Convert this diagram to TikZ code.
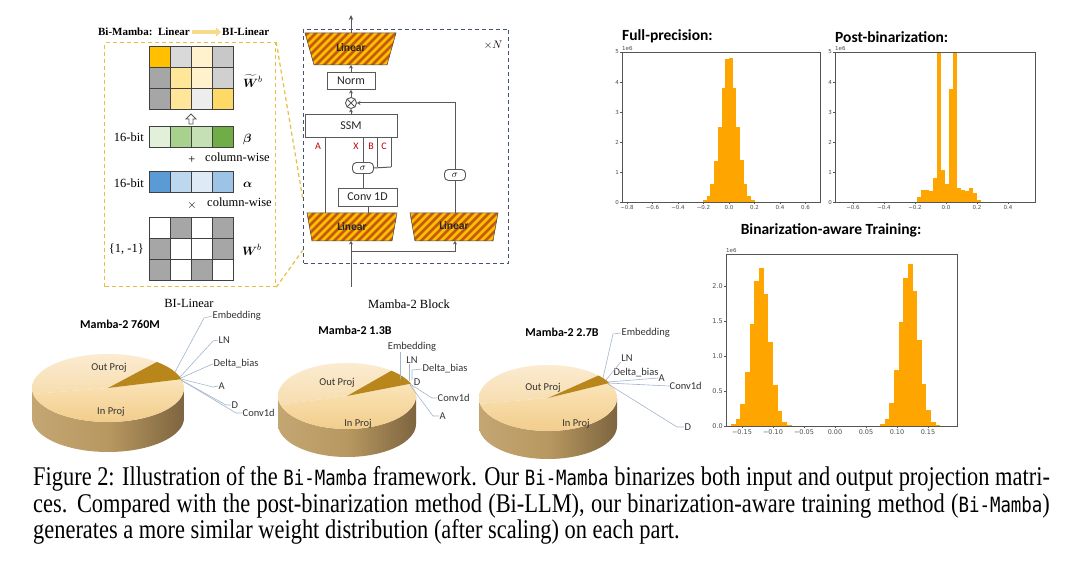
\documentclass[tikz,border=0pt]{standalone}
\usepackage{fontspec}
\setmainfont{Liberation Serif}
\setsansfont{Carlito}
\setmonofont{DejaVu Sans Mono}
\newfontfamily\djv{DejaVu Sans}
\usepackage{amsmath}
\usepackage{bm}
\usetikzlibrary{arrows.meta,calc}
\newcommand\myfs[1]{\fontsize{#1}{#1}\selectfont}
\newcommand\bimono{{\fontsize{21}{21}\ttfamily Bi-Mamba}}
\definecolor{lg}{HTML}{595959}
\definecolor{orgA}{HTML}{FFC000}
\definecolor{orgS}{HTML}{C65911}
\definecolor{navy}{HTML}{44546A}
\definecolor{ylw}{HTML}{E6C040}
\definecolor{ylwar}{HTML}{F7D98A}
\definecolor{redl}{HTML}{C00000}
\definecolor{barc}{HTML}{FFA500}
\definecolor{axc}{HTML}{555555}
\definecolor{lblue}{HTML}{A3B6CC}
\definecolor{cellb}{HTML}{404040}
\definecolor{sideL}{HTML}{C4A673}
\definecolor{sideM}{HTML}{B89860}
\definecolor{sideR}{HTML}{7E6540}
\definecolor{inT}{HTML}{FBE4B8}
\definecolor{inB}{HTML}{F2CD8C}
\definecolor{outT}{HTML}{FBEBD0}
\definecolor{outB}{HTML}{F7DDAF}
\definecolor{slc}{HTML}{B8861A}
\newcommand\mytrap[6]{%
\begin{scope}
\clip (#1,#5) -- (#2,#5) -- (#3,#6) -- (#4,#6) -- cycle;
\fill[orgA] (#1,#5) rectangle (#2,#6);
\foreach \k in {-40,-32,...,100} {\draw[orgS,line width=2.8pt] ({#1+\k},{#6+3}) -- ++(44,-44);}
\end{scope}
\draw[draw=lg!80!black,line width=0.5pt] (#1,#5) -- (#2,#5) -- (#3,#6) -- (#4,#6) -- cycle;}
\newcommand\mypie[9]{%
\shade[left color=sideL, right color=sideR, middle color=sideM] plot[domain=180:360,samples=60] ({#1+#3*cos(\x)},{#2-#4*sin(\x)}) -- plot[domain=360:180,samples=60] ({#1+#3*cos(\x)},{#2-#4*sin(\x)+#5}) -- cycle;
\shade[top color=inT, bottom color=inB] (#1,#2) -- plot[domain=#8:#9,samples=80] ({#1+#3*cos(\x)},{#2-#4*sin(\x)}) -- cycle;
\shade[top color=outT, bottom color=outB] (#1,#2) -- plot[domain=#7:#8,samples=50] ({#1+#3*cos(\x)},{#2-#4*sin(\x)}) -- cycle;
\fill[slc] (#1,#2) -- plot[domain=#6:#7,samples=20] ({#1+#3*cos(\x)},{#2-#4*sin(\x)}) -- cycle;}
\begin{document}
\begin{tikzpicture}[x=1pt,y=-1pt,
 ln/.style={draw=lg,line width=1pt},
 bx/.style={draw=lg,fill=white,line width=0.9pt,inner sep=0pt,font=\sffamily\myfs{12},text=black!85},
 sig/.style={draw=lg,fill=white,line width=0.9pt,rounded corners=4pt,minimum width=21,minimum height=11,inner sep=0pt,font=\myfs{10}},
 ltxt/.style={font=\sffamily\bfseries\myfs{11.5},text=black!85},
 red/.style={font=\sffamily\myfs{10},text=redl},
 ser/.style={font=\myfs{12.5},inner sep=0pt},
 pl/.style={font=\sffamily\myfs{10.5},text=black!80,inner sep=0.5pt},
 plt/.style={font=\sffamily\bfseries\myfs{12},inner sep=0pt},
 lbl/.style={draw=lblue,line width=0.6pt},
 tk/.style={font=\djv\myfs{5.5},text=black!70,inner sep=1pt},
 bar/.style={fill=barc},
 ht/.style={font=\sffamily\bfseries\myfs{15.5},inner sep=0pt},
 arr/.style={-{Stealth[length=5pt,width=4.5pt]}}
]
\useasboundingbox[fill=white] (0,0) rectangle (1080,564);

% ===== BI-Linear panel =====
\node[anchor=east,font=\bfseries\myfs{11},inner sep=0pt] (tl) at (190,32) {Bi-Mamba:\ \ Linear};
\node[anchor=west,font=\bfseries\myfs{11},inner sep=0pt] (tr) at (222,32) {BI-Linear};
\draw[ylwar,line width=3.5pt,-{Triangle[length=5pt,width=9pt]}] (tl.east) ++(2,0) -- ($(tr.west)+(-1,0)$);
\node[draw=ylw,dash pattern=on 4pt off 3pt,line width=1.2pt,minimum width=171,minimum height=244,anchor=north west,inner sep=0] (ybox) at (104,42) {};
\coordinate (z1) at (303,200);
\coordinate (z2) at (303,250);
\draw[ylw,dash pattern=on 4pt off 3pt,line width=1.2pt] (ybox.north east) -- (z1);
\draw[ylw,dash pattern=on 4pt off 3pt,line width=1.2pt] (ybox.south east) -- (z2);
% top matrix
\foreach \c [count=\j from 0] in {FFC000,D9D9D9,FFF2CC,C8C8C8} {\definecolor{tmp}{HTML}{\c}\filldraw[fill=tmp,draw=cellb,line width=1pt] ({149+21*\j},47) rectangle +(21,21);}
\foreach \c [count=\j from 0] in {A6A6A6,FFE699,FFF2CC,D0D0D0} {\definecolor{tmp}{HTML}{\c}\filldraw[fill=tmp,draw=cellb,line width=1pt] ({149+21*\j},68) rectangle +(21,21);}
\foreach \c [count=\j from 0] in {A6A6A6,FFE699,EDEDED,FFD966} {\definecolor{tmp}{HTML}{\c}\filldraw[fill=tmp,draw=cellb,line width=1pt] ({149+21*\j},89) rectangle +(21,21);}
\node[ser,anchor=west,font=\myfs{13}] (wt) at (243,81) {$\bm{\widetilde{W}}^{b}$};
\draw[lg,line width=0.9pt,fill=white] (191,114) -- (196,119) -- (193,119) -- (193,124) -- (189,124) -- (189,119) -- (186,119) -- cycle;
% beta
\foreach \c [count=\j from 0] in {E2F0D9,A9D18E,C5E0B4,70AD47} {\definecolor{tmp}{HTML}{\c}\filldraw[fill=tmp,draw=cellb,line width=1pt] ({149+21*\j},127) rectangle +(21,21);}
\node[ser,anchor=east] (b16) at (144,137) {16-bit};
\node[ser,anchor=west,font=\myfs{13}] (beta) at (243,140) {$\bm{\beta}$};
\node[ser] (plus) at (192,160) {+};
\node[ser,anchor=west] (cw1) at (205,157) {column-wise};
% alpha
\foreach \c [count=\j from 0] in {5B9BD5,BDD7EE,DEEBF7,9DC3E6} {\definecolor{tmp}{HTML}{\c}\filldraw[fill=tmp,draw=cellb,line width=1pt] ({149+21*\j},172) rectangle +(21,21);}
\node[ser,anchor=east] (a16) at (144,183) {16-bit};
\node[ser,anchor=west,font=\myfs{13}] (alpha) at (243,185) {$\bm{\alpha}$};
\node[ser] (times) at (192,206) {$\times$};
\node[ser,anchor=west] (cw2) at (207,202) {column-wise};
% Wb
\foreach \c [count=\j from 0] in {FFFFFF,A6A6A6,FFFFFF,A6A6A6} {\definecolor{tmp}{HTML}{\c}\filldraw[fill=tmp,draw=cellb,line width=1pt] ({149+21*\j},218) rectangle +(21,21);}
\foreach \c [count=\j from 0] in {A6A6A6,FFFFFF,FFFFFF,A6A6A6} {\definecolor{tmp}{HTML}{\c}\filldraw[fill=tmp,draw=cellb,line width=1pt] ({149+21*\j},239) rectangle +(21,21);}
\foreach \c [count=\j from 0] in {A6A6A6,FFFFFF,A6A6A6,FFFFFF} {\definecolor{tmp}{HTML}{\c}\filldraw[fill=tmp,draw=cellb,line width=1pt] ({149+21*\j},260) rectangle +(21,21);}
\node[ser,anchor=east] (pm) at (144,249) {\{1, -1\}};
\node[ser,anchor=west,font=\myfs{13}] (wb) at (242,250) {$\bm{W}^{b}$};
\node[ser] (bil) at (189,303) {BI-Linear};

% ===== Mamba block =====
\node[draw=navy,dash pattern=on 4pt off 3pt,line width=1pt,minimum width=205,minimum height=234,anchor=north west,inner sep=0] (mblk) at (303,29) {};
\node[font=\myfs{11}] (xn) at (493,45) {$\times N$};
\mytrap{305}{396}{387}{314}{33}{65}
\node[ltxt] (lin1) at (351,48) {Linear};
\mytrap{307}{397}{392}{312}{213}{241}
\node[ltxt] (lin2) at (352,227) {Linear};
\mytrap{410}{498}{493}{415}{213}{241}
\node[ltxt] (lin3) at (454,226) {Linear};
\coordinate (l1t) at (351,33);
\coordinate (l1b) at (351,65);
\coordinate (outp) at (351,15);
\node[bx,minimum width=48,minimum height=17] (norm) at (351,81) {Norm};
\node[circle,draw=lg,line width=0.9pt,fill=white,minimum size=11,inner sep=0] (mul) at (351,103) {};
\draw[lg,line width=0.9pt] (mul.north east) -- (mul.south west) (mul.north west) -- (mul.south east);
\node[bx,minimum width=92,minimum height=23] (ssm) at (351,125.5) {SSM};
\node[bx,minimum width=59,minimum height=18] (conv) at (367.5,197) {Conv 1D};
\node[sig] (sg1) at (363,168) {$\sigma$};
\node[sig] (sg2) at (455,175) {$\sigma$};
\draw[ln,arr] (l1t) -- (outp);
\draw[ln,-{Stealth[length=3.5pt,width=4pt]}] (norm.north) -- (l1b);
\draw[ln,-{Stealth[length=3.5pt,width=4pt]}] (mul.north) -- (norm.south);
\draw[ln,-{Stealth[length=3.5pt,width=4pt]}] (ssm.north) -- (mul.south);
\coordinate (l2tA) at (325,213);
\coordinate (l2tC) at (368,213);
\coordinate (bb) at (377,167);
\coordinate (cc) at (391,167);
\draw[ln] (l2tA) -- (l2tA |- ssm.south);
\draw[ln] (sg1.north) -- (sg1.north |- ssm.south);
\draw[ln] (bb) -- (bb |- ssm.south);
\draw[ln] (cc) -- (cc |- ssm.south);
\draw[ln] (sg1.east) -- (cc);
\draw[ln] (sg1.south) -- (sg1.south |- conv.north);
\draw[ln] (conv.south -| l2tC) -- (l2tC);
\coordinate (l3t) at (455,213);
\draw[ln] (l3t) -- (sg2.south);
\draw[ln,-{Stealth[length=3.5pt,width=4pt]}] (sg2.north) |- (mul.east);
\coordinate (inp) at (351,287);
\coordinate (l2b) at (351,241);
\coordinate (l3b) at (455,241);
\coordinate (br) at (351,252);
\draw[ln,-{Stealth[length=3.5pt,width=4pt]}] (inp) -- (l2b);
\draw[ln,-{Stealth[length=3.5pt,width=4pt]}] (br) -| (l3b);
\node[red] (la) at (318,146) {A};
\node[red] (lx) at (356,146) {X};
\node[red] (lb) at (371,146) {B};
\node[red] (lc) at (384,146) {C};
\node[ser] (mbl) at (409,304) {Mamba-2 Block};

% ===== Histograms =====
\node[ht,anchor=west] (t1) at (622,36) {Full-precision:};
\node[ht,anchor=west] (t2) at (835,37) {Post-binarization:};
\node[ht] (t3) at (831,230) {Binarization-aware Training:};
% full precision
\foreach \h [count=\i from 0] in {0.05,0.2,0.6,1.35,2.5,3.8,4.75,4.8,3.8,2.5,1.4,0.6,0.2,0.05}
  {\fill[bar] ({703+\i*3.7},202) rectangle ({703+(\i+1)*3.7},{202-\h*30});}
\node[draw=axc,line width=0.6pt,minimum width=198,minimum height=150,anchor=north west,inner sep=0] (ax1) at (622,52) {};
\foreach \v/\l in {-0.8/−0.8,-0.6/−0.6,-0.4/−0.4,-0.2/−0.2,0/0.0,0.2/0.2,0.4/0.4,0.6/0.6}
  {\draw[axc,line width=0.5pt] ({729+(\v)*127.5},202) -- ++(0,2); \node[tk,anchor=north] at ({729+(\v)*127.5},204) {\l};}
\foreach \v in {0,...,5}
  {\draw[axc,line width=0.5pt] (622,{202-30*\v}) -- ++(-2,0); \node[tk,anchor=east] at (620,{202-30*\v}) {\v};}
\node[tk,anchor=south west] (e1) at (621,52) {1e6};
% post binarization
\foreach \h [count=\i from 0] in {0.15,0.4,0.4,0.35,0.8,5,1.05,0.6,3.75,5,0.45,0.4,0.35,0.45,0.3,0.05}
  {\fill[bar] ({917+\i*4},202) rectangle ({917+(\i+1)*4},{202-\h*30});}
\node[draw=axc,line width=0.6pt,minimum width=200,minimum height=150,anchor=north west,inner sep=0] (ax2) at (835,52) {};
\foreach \v/\l in {-0.6/−0.6,-0.4/−0.4,-0.2/−0.2,0/0.0,0.2/0.2,0.4/0.4}
  {\draw[axc,line width=0.5pt] ({946+(\v)*155},202) -- ++(0,2); \node[tk,anchor=north] at ({946+(\v)*155},204) {\l};}
\foreach \v in {0,...,5}
  {\draw[axc,line width=0.5pt] (835,{202-30*\v}) -- ++(-2,0); \node[tk,anchor=east] at (833,{202-30*\v}) {\v};}
\node[tk,anchor=south west] (e2) at (834,52) {1e6};
% binarization aware
\foreach \i in {0,...,13} {
  \pgfmathsetmacro\vv{-0.1675+\i*0.0075}
  \pgfmathsetmacro\ww{(\vv+0.00375+0.12)/0.0145}
  \pgfmathsetmacro\hh{2.27*exp(-0.5*\ww*\ww)}
  \fill[bar] ({835+620*\vv},426) rectangle ({835+620*(\vv+0.0075)},{426-70*\hh});
  \pgfmathsetmacro\vr{0.0725+\i*0.0075}
  \pgfmathsetmacro\wr{(\vr+0.00375-0.12)/0.0145}
  \pgfmathsetmacro\hr{2.32*exp(-0.5*\wr*\wr)}
  \fill[bar] ({835+620*\vr},426) rectangle ({835+620*(\vr+0.0075)},{426-70*\hr});
}
\node[draw=axc,line width=0.6pt,minimum width=231,minimum height=172,anchor=north west,inner sep=0] (ax3) at (726,254) {};
\foreach \v/\l in {-0.15/−0.15,-0.10/−0.10,-0.05/−0.05,0/0.00,0.05/0.05,0.10/0.10,0.15/0.15}
  {\draw[axc,line width=0.5pt] ({835+(\v)*620},426) -- ++(0,2); \node[tk,font=\djv\myfs{6.5},anchor=north] at ({835+(\v)*620},428) {\l};}
\foreach \v in {0.0,0.5,1.0,1.5,2.0}
  {\draw[axc,line width=0.5pt] (726,{426-70*\v}) -- ++(-2,0); \node[tk,font=\djv\myfs{6.5},anchor=east] at (724,{426-70*\v}) {\v};}
\node[tk,anchor=south west] (e3) at (725,254) {1e6};

% ===== Pies =====
\mypie{108}{388}{76}{34}{30}{15}{50}{190}{375}
\mypie{347}{396}{69}{33}{28}{22}{50}{195}{382}
\mypie{548}{398}{69}{33}{28}{27}{43}{190}{387}
\node[plt] (pt1) at (120,324) {Mamba-2 760M};
\node[plt] (pt2) at (355,330) {Mamba-2 1.3B};
\node[plt] (pt3) at (562,332) {Mamba-2 2.7B};
\node[pl] (op1) at (109,368) {Out Proj};
\node[pl] (ip1) at (111,412) {In Proj};
\node[pl] (op2) at (337,383) {Out Proj};
\node[pl] (ip2) at (358,424) {In Proj};
\node[pl] (op3) at (543,388) {Out Proj};
\node[pl] (ip3) at (576,424) {In Proj};
% pie 1 labels
\node[pl,anchor=west] (e1a) at (212,316) {Embedding};
\node[pl,anchor=west] (n1a) at (218,340) {LN};
\node[pl,anchor=west] (d1a) at (213,364) {Delta\_bias};
\node[pl,anchor=west] (a1a) at (218,386) {A};
\node[pl,anchor=west] (dd1) at (231,405) {D};
\node[pl,anchor=west] (c1a) at (242,413) {Conv1d};
\draw[lbl] (175,372) -- (204,318) -- (e1a.west);
\draw[lbl] (180,377) -- (213,341) -- (n1a.west);
\draw[lbl] (181,378) -- (208,366) -- (d1a.west);
\draw[lbl] (181,379) -- (213,387) -- (a1a.west);
\draw[lbl] (181,380) -- (226,405) -- (dd1.west);
\draw[lbl] (181,380) -- (236,413) -- (c1a.west);
% pie 2 labels
\node[pl] (e2a) at (412,347) {Embedding};
\node[pl] (n2a) at (412,360) {LN};
\node[pl,anchor=west] (d2a) at (422,369) {Delta\_bias};
\node[pl] (dd2) at (417,382) {D};
\node[pl,anchor=west] (c2a) at (437,398) {Conv1d};
\node[pl,anchor=west] (a2a) at (439,416) {A};
\coordinate (p2e) at (400,379);
\coordinate (p2n) at (409,381);
\draw[lbl] (p2e) -- (p2e |- e2a.south);
\draw[lbl] (p2n) -- (p2n |- n2a.south);
\draw[lbl] (412,380) -- (412,370) -- (d2a.west);
\draw[lbl] (410,384) -- (432,398) -- (c2a.west);
\draw[lbl] (410,385) -- (433,416) -- (a2a.west);
% pie 3 labels
\node[pl,anchor=west] (e3a) at (621,333) {Embedding};
\node[pl] (n3a) at (627,358) {LN};
\node[pl] (d3a) at (636,373) {Delta\_bias};
\node[pl,anchor=west] (a3a) at (658,378) {A};
\node[pl,anchor=west] (c3a) at (669,386) {Conv1d};
\node[pl,anchor=west] (dd3) at (684,427) {D};
\draw[lbl] (603,378) -- (613,334) -- (e3a.west);
\draw[lbl] (606,380) -- (n3a.south west);
\draw[lbl] (608,382) -- (a3a.west);
\draw[lbl] (608,383) -- (c3a.west);
\draw[lbl] (608,384) -- (677,427) -- (dd3.west);

% ===== Caption =====
\node[anchor=north west,inner sep=0] (cap) at (33,466.5) {\scalebox{0.83}[1]{\parbox{1225pt}{\fontsize{27}{26.5}\selectfont\spaceskip=0.25em plus 0.3em minus 0.12em\noindent
Figure 2: Illustration of the \bimono{} framework. Our \bimono{} binarizes both input and output projection matri-\linebreak
ces. Compared with the post-binarization method (Bi-LLM), our binarization-aware training method (\bimono)\linebreak
generates a more similar weight distribution (after scaling) on each part.}}};
\end{tikzpicture}
\end{document}
